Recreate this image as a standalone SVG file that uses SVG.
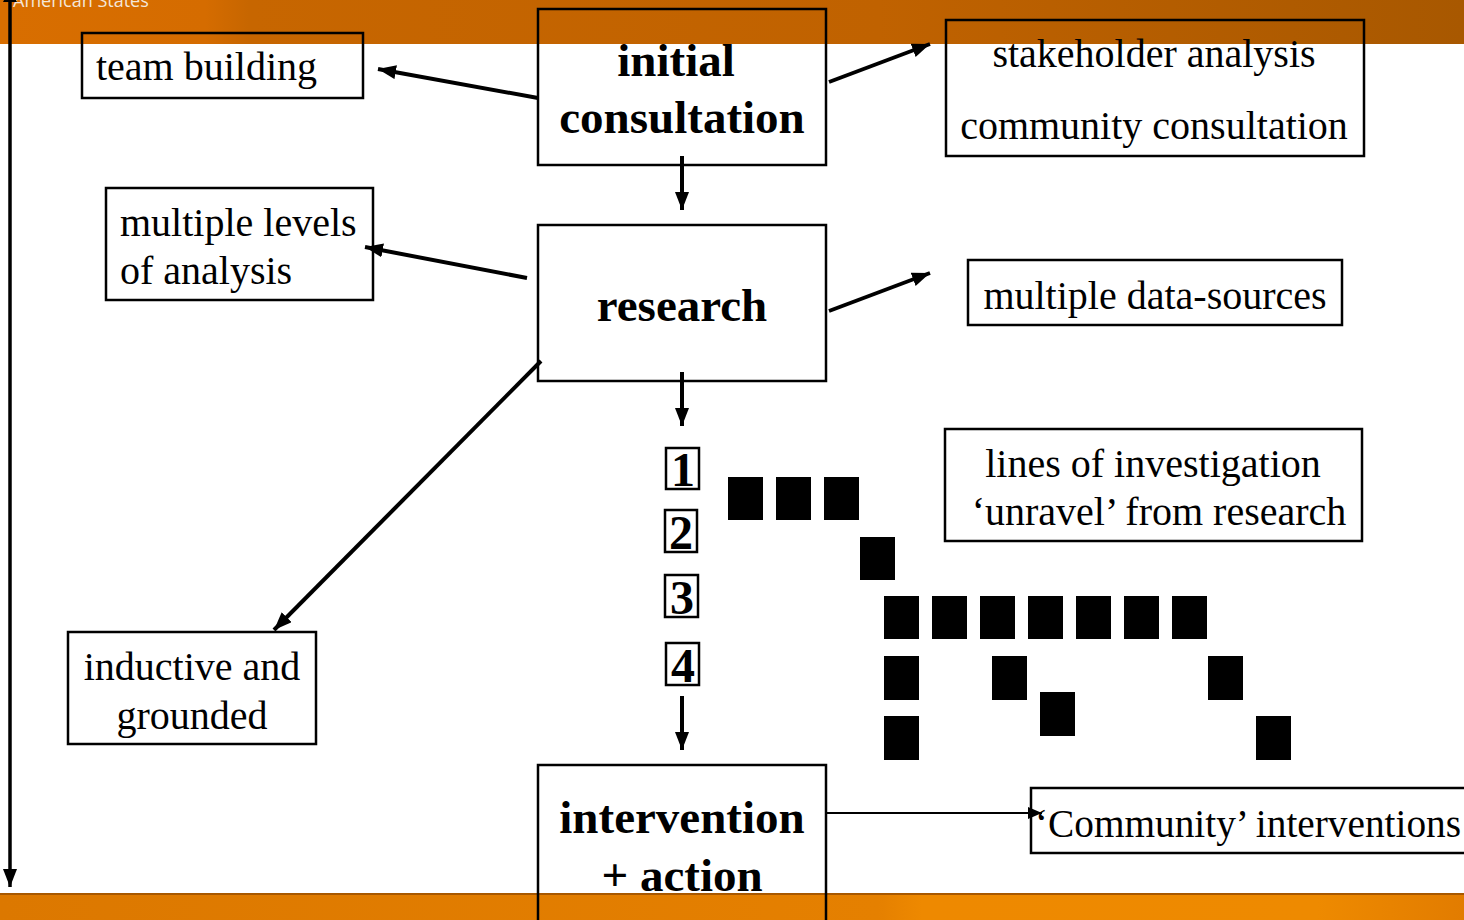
<svg xmlns="http://www.w3.org/2000/svg" width="1464" height="920" viewBox="0 0 1464 920">
<defs>
<linearGradient id="hdr" x1="0" y1="0" x2="1" y2="0">
<stop offset="0" stop-color="#d86e00"/>
<stop offset="0.14" stop-color="#d56c00"/>
<stop offset="0.17" stop-color="#c76600"/>
<stop offset="0.6" stop-color="#c06200"/>
<stop offset="1" stop-color="#a85800"/>
</linearGradient>
<linearGradient id="ftr" x1="0" y1="0" x2="1" y2="0">
<stop offset="0" stop-color="#dc7800"/>
<stop offset="0.6" stop-color="#e58000"/>
<stop offset="0.63" stop-color="#ee8900"/>
<stop offset="0.9" stop-color="#ee8a00"/>
<stop offset="1" stop-color="#e27c00"/>
</linearGradient>
<marker id="ah" markerUnits="userSpaceOnUse" markerWidth="20" markerHeight="16" refX="18" refY="7" orient="auto">
<path d="M0,0 L18,7 L0,14 Z" fill="#000"/>
</marker>
<marker id="ahs" markerUnits="userSpaceOnUse" markerWidth="16" markerHeight="14" refX="14" refY="6" orient="auto">
<path d="M0,0 L14,6 L0,12 Z" fill="#000"/>
</marker>
</defs>
<style>
.box{fill:none;stroke:#000;stroke-width:2.5}
.t{font-family:"Liberation Serif","Times New Roman",serif;font-size:40px;fill:#000}
.b{font-family:"Liberation Serif","Times New Roman",serif;font-size:47px;font-weight:bold;fill:#000}
.n{font-family:"Liberation Serif","Times New Roman",serif;font-size:48px;font-weight:bold;fill:#000}
.c{text-anchor:middle}
.ar{stroke:#000;stroke-width:4;fill:none;marker-end:url(#ah)}
.sq{fill:#000}
</style>
<rect x="0" y="0" width="1464" height="44" fill="url(#hdr)"/>
<text x="13" y="7" font-family="'Open Sans','DejaVu Sans',sans-serif" font-size="18" fill="#f4e6d8">American States</text>
<rect x="0" y="893" width="1464" height="27" fill="url(#ftr)"/>
<rect x="0" y="893" width="1464" height="2" fill="#a85800"/>

<g id="connectors">
<line x1="10" y1="0" x2="10" y2="887" class="ar" style="stroke-width:3.5"/>
<path d="M3,2 L10,-12 L17,2 Z" fill="#000"/>
<line x1="538" y1="98" x2="378" y2="69" class="ar"/>
<line x1="829" y1="82" x2="930" y2="44" class="ar"/>
<line x1="682" y1="156" x2="682" y2="210" class="ar"/>
<line x1="527" y1="278" x2="365" y2="247" class="ar"/>
<line x1="829" y1="311" x2="930" y2="273" class="ar"/>
<line x1="682" y1="372" x2="682" y2="426" class="ar"/>
<line x1="541" y1="361" x2="274" y2="630" class="ar"/>
<line x1="682" y1="696" x2="682" y2="750" class="ar"/>
<line x1="827" y1="813" x2="1042" y2="813" stroke="#000" stroke-width="2" marker-end="url(#ahs)"/>
</g>

<g id="team-building"><rect class="box" x="82" y="33" width="281" height="65"/><text class="t" x="96" y="80">team building</text></g>
<g id="initial-consultation"><rect class="box" x="538" y="9" width="288" height="156"/><text class="b c" x="676" y="76">initial</text><text class="b c" x="682" y="133">consultation</text></g>
<g id="stakeholder"><rect class="box" x="946" y="20" width="418" height="136"/><text class="t c" x="1154" y="67">stakeholder analysis</text><text class="t c" x="1154" y="139">community consultation</text></g>
<g id="multiple-levels"><rect class="box" x="106" y="188" width="267" height="112"/><text class="t" x="120" y="236">multiple levels</text><text class="t" x="120" y="284">of analysis</text></g>
<g id="research"><rect class="box" x="538" y="225" width="288" height="156"/><text class="b c" x="682" y="321">research</text></g>
<g id="data-sources"><rect class="box" x="968" y="260" width="374" height="65"/><text class="t c" x="1155" y="309">multiple data-sources</text></g>
<g id="lines-investigation"><rect class="box" x="945" y="429" width="417" height="112"/><text class="t c" x="1153" y="477">lines of investigation</text><text class="t c" x="1159" y="525">‘unravel’ from research</text></g>
<g id="inductive"><rect class="box" x="68" y="632" width="248" height="112"/><text class="t c" x="192" y="680">inductive and</text><text class="t c" x="192" y="729">grounded</text></g>
<g id="intervention"><rect class="box" x="538" y="765" width="288" height="170"/><text class="b c" x="682" y="833">intervention</text><text class="b c" x="682" y="891">+ action</text></g>
<g id="community-interventions"><rect class="box" x="1031" y="788" width="440" height="65"/><text class="t" x="1035" y="837" textLength="426" lengthAdjust="spacingAndGlyphs">‘Community’ interventions</text></g>

<g id="numbers">
<rect class="box" x="666" y="448" width="33" height="41"/><text class="n c" x="683" y="486">1</text>
<rect class="box" x="665" y="510" width="32" height="42"/><text class="n c" x="681" y="549">2</text>
<rect class="box" x="665" y="575" width="33" height="42"/><text class="n c" x="682" y="614">3</text>
<rect class="box" x="666" y="643" width="33" height="42"/><text class="n c" x="683" y="682">4</text>
</g>

<g id="squares">
<rect class="sq" x="728" y="477" width="35" height="43"/>
<rect class="sq" x="776" y="477" width="35" height="43"/>
<rect class="sq" x="824" y="477" width="35" height="43"/>
<rect class="sq" x="860" y="537" width="35" height="43"/>
<rect class="sq" x="884" y="596" width="35" height="43"/>
<rect class="sq" x="932" y="596" width="35" height="43"/>
<rect class="sq" x="980" y="596" width="35" height="43"/>
<rect class="sq" x="1028" y="596" width="35" height="43"/>
<rect class="sq" x="1076" y="596" width="35" height="43"/>
<rect class="sq" x="1124" y="596" width="35" height="43"/>
<rect class="sq" x="1172" y="596" width="35" height="43"/>
<rect class="sq" x="884" y="656" width="35" height="44"/>
<rect class="sq" x="992" y="656" width="35" height="44"/>
<rect class="sq" x="1208" y="656" width="35" height="44"/>
<rect class="sq" x="1040" y="692" width="35" height="44"/>
<rect class="sq" x="884" y="716" width="35" height="44"/>
<rect class="sq" x="1256" y="716" width="35" height="44"/>
</g>
</svg>
